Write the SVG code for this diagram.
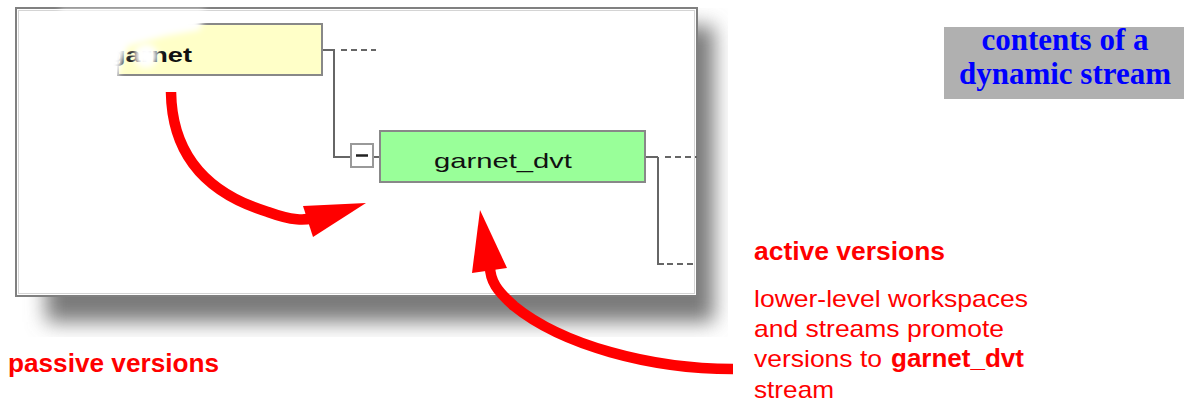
<svg xmlns="http://www.w3.org/2000/svg" width="1184" height="404" viewBox="0 0 1184 404">
<style>
.tree{stroke:#666;stroke-width:2;fill:none}
.dash{stroke:#666;stroke-width:2;fill:none;stroke-dasharray:6,4}
.arrow{stroke:#ff0000;stroke-width:10.5;fill:none}
.head{fill:#ff0000}
.red{font-family:"Liberation Sans",Arial,sans-serif;fill:#ff0000;font-size:24px}
.redb{font-family:"Liberation Sans",Arial,sans-serif;fill:#ff0000;font-size:25px;font-weight:bold}
.node{font-family:"Liberation Sans",Arial,sans-serif;font-size:21px;fill:#111}
.title{font-family:"Liberation Serif","Times New Roman",serif;font-size:31px;font-weight:bold;fill:#0000ff}
</style>
<defs>
<filter id="blur" x="-20%" y="-20%" width="140%" height="140%"><feGaussianBlur stdDeviation="10"/></filter>
<filter id="soft" x="-50%" y="-50%" width="200%" height="200%"><feGaussianBlur stdDeviation="3"/></filter>
<clipPath id="shclip"><rect x="16" y="8" width="712" height="329"/></clipPath>
</defs>
<rect width="1184" height="404" fill="#ffffff"/>

<g id="screenshot-frame">
<g clip-path="url(#shclip)">
<rect x="46" y="26" width="668" height="296" fill="#7a7a7a" filter="url(#blur)"/>
</g>
<rect x="16" y="8" width="681" height="288" fill="#ffffff" stroke="#808080" stroke-width="2"/>
<rect x="18.5" y="10.5" width="676" height="283" fill="none" stroke="#d4d4d4" stroke-width="1"/>
</g>

<g id="connectors">
<line class="tree" x1="322" y1="50" x2="335" y2="50"/>
<line class="dash" x1="341" y1="50" x2="376" y2="50"/>
<line class="tree" x1="334" y1="50" x2="334" y2="157"/>
<line class="tree" x1="333" y1="157" x2="351" y2="157"/>
<line class="tree" x1="373" y1="157" x2="380" y2="157"/>
<line class="tree" x1="645" y1="157" x2="658" y2="157"/>
<line class="dash" x1="665" y1="157" x2="697" y2="157"/>
<line class="tree" x1="658" y1="157" x2="658" y2="264"/>
<line class="tree" x1="657" y1="264" x2="664" y2="264"/>
<line class="dash" x1="667" y1="264" x2="697" y2="264"/>
</g>

<g id="node-garnet">
<rect x="118" y="24" width="204" height="51" fill="#ffffc8" stroke="#888" stroke-width="2"/>
<text class="node" x="109" y="62" textLength="83" lengthAdjust="spacingAndGlyphs" font-weight="bold">garnet</text>
<path d="M60,10 L205,10 L200,30 L165,36 L128,46 L117,78 L60,82 Z" fill="#ffffff" filter="url(#soft)"/>
<ellipse cx="146" cy="56" rx="12" ry="12" fill="#ffffff" filter="url(#soft)"/>
<rect x="94" y="40" width="16" height="38" fill="#ffffff" filter="url(#soft)"/>
</g>

<g id="node-minus">
<rect x="351" y="144" width="22" height="23" fill="#ffffff" stroke="#999" stroke-width="2"/>
<line x1="356" y1="155.5" x2="368" y2="155.5" stroke="#222" stroke-width="2.5"/>
</g>

<g id="node-garnet_dvt">
<rect x="380" y="131" width="265" height="51" fill="#99ff99" stroke="#888" stroke-width="2"/>
<text class="node" x="434" y="168" textLength="138" lengthAdjust="spacingAndGlyphs">garnet_dvt</text>
</g>

<g id="arrows">
<path class="arrow" d="M171,92 C172,160 212,195 268,212 C290,220 305,222 322,216"/>
<polygon class="head" points="366,203 303,206 313,237"/>
<path class="arrow" d="M733,369 C650,369 562,345 514,306 C497,291 490,281 490,266"/>
<polygon class="head" points="480,210 472,273 507,268"/>
</g>

<g id="title">
<rect x="944" y="27" width="240" height="72" fill="#b0b0b0"/>
<text class="title" x="1065" y="50" text-anchor="middle">contents of a</text>
<text class="title" x="1065" y="84" text-anchor="middle">dynamic stream</text>
</g>

<g id="labels">
<text class="redb" x="8" y="372" textLength="211" lengthAdjust="spacingAndGlyphs">passive versions</text>
<text class="redb" x="754" y="260" textLength="191" lengthAdjust="spacingAndGlyphs">active versions</text>
<text class="red" x="754" y="307" textLength="274" lengthAdjust="spacingAndGlyphs">lower-level workspaces</text>
<text class="red" x="754" y="337" textLength="250" lengthAdjust="spacingAndGlyphs">and streams promote</text>
<text class="red" x="754" y="367" textLength="128" lengthAdjust="spacingAndGlyphs">versions to</text>
<text class="redb" x="891" y="367" textLength="133" lengthAdjust="spacingAndGlyphs">garnet_dvt</text>
<text class="red" x="754" y="398" textLength="80" lengthAdjust="spacingAndGlyphs">stream</text>
</g>
</svg>
